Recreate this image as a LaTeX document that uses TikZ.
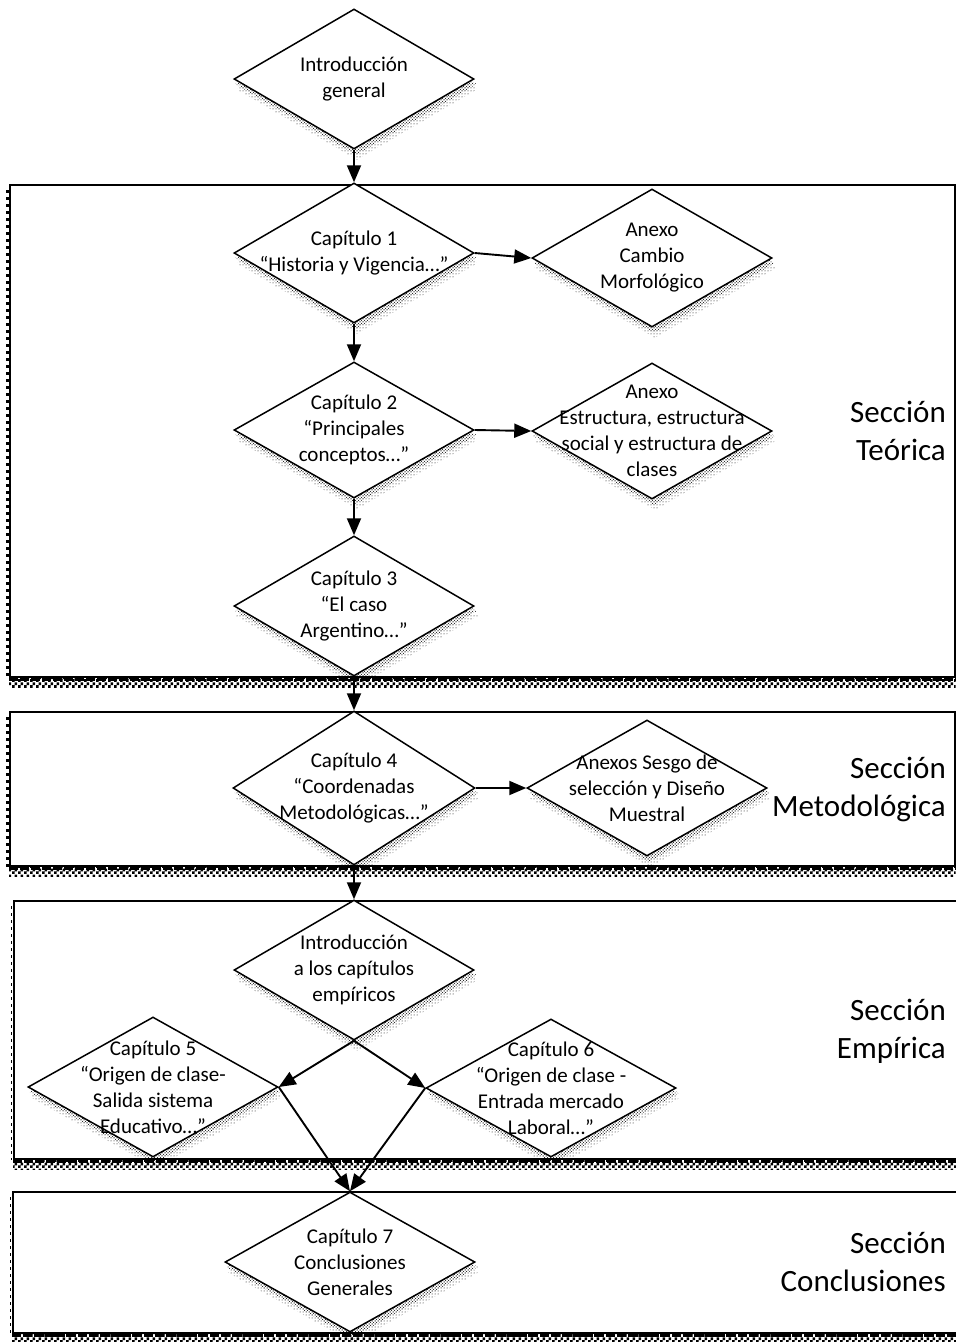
\documentclass[tikz,border=0pt]{standalone}
\usepackage{fontspec}
\setmainfont{Carlito}
\usetikzlibrary{shapes.geometric,arrows.meta,patterns,calc}
\pgfdeclarelayer{boxes}
\pgfdeclarelayer{shadows}
\pgfsetlayers{boxes,shadows,main}
\pgfdeclarepatternformonly{bigcheck}{\pgfpointorigin}{\pgfqpoint{6pt}{6pt}}{\pgfqpoint{6pt}{6pt}}{%
  \pgfpathrectangle{\pgfpointorigin}{\pgfqpoint{3pt}{3pt}}%
  \pgfpathrectangle{\pgfqpoint{3pt}{3pt}}{\pgfqpoint{3pt}{3pt}}%
  \pgfusepath{fill}}
\newcommand\diashadow[1]{%
  \fill[pattern=dots, pattern color=black] ($(#1.north)+(3,10)$) -- ($(#1.east)+(3,10)$) -- ($(#1.south)+(3,10)$) -- ($(#1.west)+(3,10)$) -- cycle;
  \fill[pattern=crosshatch dots, pattern color=black] ($(#1.north)+(2,5)$) -- ($(#1.east)+(2,5)$) -- ($(#1.south)+(2,5)$) -- ($(#1.west)+(2,5)$) -- cycle;}
\newcommand\boxshadow[2]{%
  \fill[pattern=bigcheck, pattern color=black] (#1.south west) rectangle ($(#1.south east)+(0,10)$);
  \draw[line width=3pt, dash pattern=on 9pt off 2pt] ($(#1.south west)+(0,2)$) -- ($(#1.south east)+(0,2)$);
  \draw[line width=#2, dash pattern=on 3pt off 4pt] ($(#1.north west)+(-1.5,6)$) -- ($(#1.south west)+(-1.5,0)$);}
\begin{document}
\begin{tikzpicture}[x=1pt,y=-1pt,
  dia/.style={draw, shape=diamond, fill=white, line width=1.5pt, inner sep=0pt, minimum width=240pt, minimum height=140pt},
  dtext/.style={align=center, font=\fontsize{21}{26}\selectfont, inner sep=0pt},
  sect/.style={align=right, anchor=east, font=\fontsize{31}{38}\selectfont, inner sep=0pt},
  arr/.style={-{Triangle[length=17pt,width=14pt]}, line width=1.9pt},
  secbox/.style={draw, fill=white, line width=1.6pt, inner sep=0pt, anchor=north west}]
\useasboundingbox (0,0) rectangle (956,1342);

% section boxes
\begin{pgfonlayer}{boxes}
\node[secbox, minimum width=945pt, minimum height=492pt] (b1) at (9,184) {};
\boxshadow{b1}{3pt}
\draw[line width=3pt, dash pattern=on 3pt off 4pt] ($(b1.north east)+(1.5,6)$) -- ($(b1.south east)+(1.5,0)$);
\node[secbox, minimum width=945pt, minimum height=154pt] (b2) at (9,711) {};
\boxshadow{b2}{3pt}
\node[secbox, minimum width=945pt, minimum height=258pt] (b3) at (13,900) {};
\boxshadow{b3}{1.5pt}
\node[secbox, minimum width=946pt, minimum height=141pt] (b4) at (12,1191) {};
\boxshadow{b4}{1.5pt}
\end{pgfonlayer}

% diamonds
\node[dia] (intro) at (354,79) {};
\node[dia] (c1) at (354,253) {};
\node[dia, minimum height=138pt] (a1) at (652,258) {};
\node[dia, minimum height=136pt] (c2) at (354,430) {};
\node[dia, minimum height=136pt] (a2) at (652,431) {};
\node[dia] (c3) at (354,606) {};
\node[dia, minimum width=242pt, minimum height=154pt] (c4) at (354,788) {};
\node[dia, minimum height=136pt] (a4) at (647,788) {};
\node[dia] (ie) at (354,970) {};
\node[dia, minimum width=250pt] (c5) at (153,1087) {};
\node[dia, minimum width=250pt, minimum height=138pt] (c6) at (551,1088) {};
\node[dia, minimum width=250pt] (c7) at (350,1262) {};

\begin{pgfonlayer}{shadows}
\foreach \n in {intro,c1,a1,c2,a2,c3,c4,a4,ie,c5,c6,c7}{\diashadow{\n}}
\end{pgfonlayer}

% texts
\node[dtext] (tintro) at (intro) {Introducción\\general};
\node[dtext] (tc1) at (c1) {Capítulo 1\\“Historia y Vigencia…”};
\node[dtext] (ta1) at (a1) {Anexo\\Cambio\\Morfológico};
\node[dtext] (tc2) at (c2) {Capítulo 2\\“Principales\\conceptos…”};
\node[dtext] (ta2) at (a2) {Anexo\\Estructura, estructura\\social y estructura de\\clases};
\node[dtext] (tc3) at (c3) {Capítulo 3\\“El caso\\Argentino…”};
\node[dtext] (tc4) at (c4) {Capítulo 4\\“Coordenadas\\Metodológicas…”};
\node[dtext] (ta4) at (a4) {Anexos Sesgo de\\selección y Diseño\\Muestral};
\node[dtext] (tie) at (ie) {Introducción\\a los capítulos\\empíricos};
\node[dtext] (tc5) at (c5) {Capítulo 5\\“Origen de clase-\\Salida sistema\\Educativo…”};
\node[dtext] (tc6) at (c6) {Capítulo 6\\“Origen de clase -\\Entrada mercado\\Laboral…”};
\node[dtext] (tc7) at (c7) {Capítulo 7\\Conclusiones\\Generales};

% section labels
\node[sect] (s1) at (946,431) {Sección\\Teórica};
\node[sect] (s2) at (946,789) {Sección\\Metodológica};
\node[sect] (s3) at (946,1031) {Sección\\Empírica};
\node[sect] (s4) at (946,1262) {Sección\\Conclusiones};

% arrows
\draw[arr] (intro.south) -- (c1.north);
\draw[arr] (c1.east) -- (a1.west);
\draw[arr] (c1.south) -- (c2.north);
\draw[arr] (c2.east) -- (a2.west);
\draw[arr] (c2.south) -- (c3.north);
\draw[arr] (c3.south) -- (c4.north);
\draw[arr] (c4.east) -- (a4.west);
\draw[arr] (c4.south) -- (ie.north);
\draw[arr] (ie.south) -- (c5.east);
\draw[arr] (ie.south) -- (c6.west);
\draw[arr] (c5.east) -- (c7.north);
\draw[arr] (c6.west) -- (c7.north);
\end{tikzpicture}
\end{document}
